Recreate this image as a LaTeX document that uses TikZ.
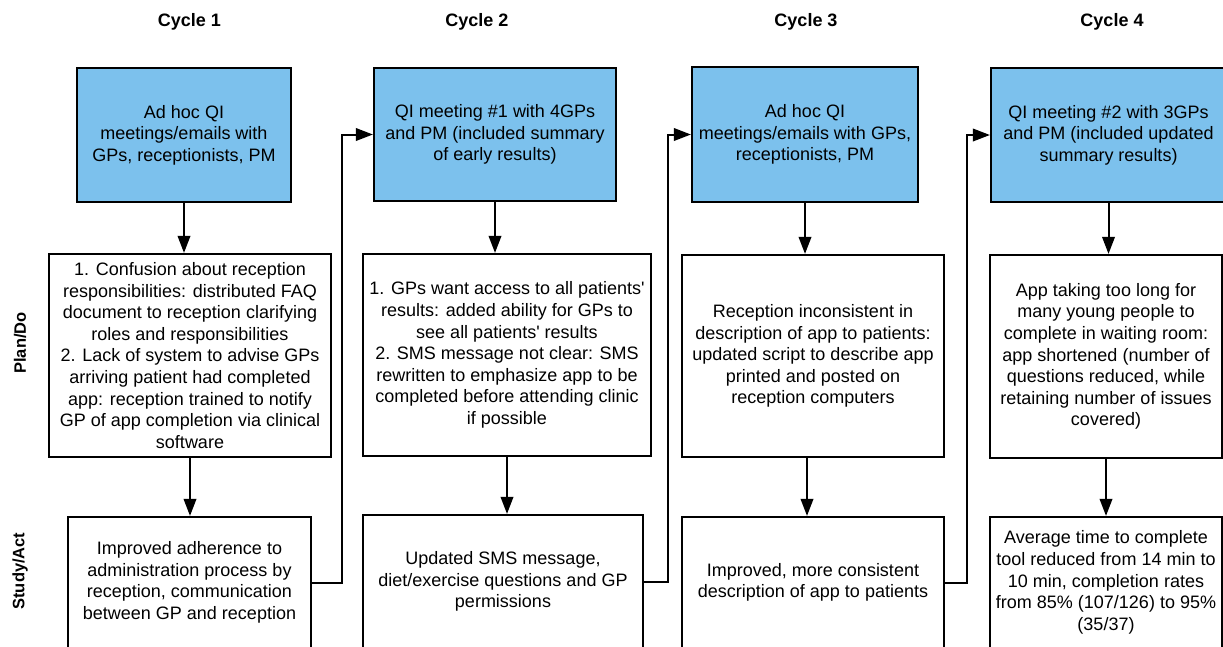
\documentclass[tikz,border=0pt]{standalone}
\usepackage{fontspec}
\setmainfont{Liberation Sans}[Ligatures=TeXOff]
\usetikzlibrary{arrows.meta}
\definecolor{qiblue}{RGB}{124,193,237}
\begin{document}
\begin{tikzpicture}[x=1pt,y=-1pt,
  box/.style={draw=black, line width=2.2pt, align=center, inner sep=2pt,
    font=\fontsize{18}{21.6}\selectfont},
  bluebox/.style={box, fill=qiblue},
  whitebox/.style={box, fill=white},
  arr/.style={line width=2pt, -{Triangle[length=17pt,width=12.5pt]}},
  title/.style={font=\bfseries\fontsize{18}{21.6}\selectfont},
  rowlabel/.style={font=\bfseries\fontsize{16.5}{19}\selectfont, rotate=90}]
\useasboundingbox (0,0) rectangle (1223,646);

% titles
\node[title] (T1) at (189.5,22) {Cycle 1};
\node[title] (T2) at (477,22) {Cycle 2};
\node[title] (T3) at (806,22) {Cycle 3};
\node[title] (T4) at (1112,22) {Cycle 4};

% row labels
\node[rowlabel] (L1) at (20,343) {Plan/Do};
\node[rowlabel] (L2) at (20,571) {Study/Act};

% blue boxes
\node[bluebox, minimum width=214, minimum height=134] (B1) at (184,135)
  {Ad hoc QI\\ meetings/emails with\\ GPs, receptionists, PM};
\node[bluebox, minimum width=242, minimum height=133] (B2) at (495,134.5)
  {QI meeting \#1 with 4GPs\\ and PM (included summary\\ of early results)};
\node[bluebox, minimum width=226, minimum height=135] (B3) at (805,134.5)
  {Ad hoc QI\\ meetings/emails with GPs,\\ receptionists, PM};
\node[bluebox, minimum width=235, minimum height=134] (B4) at (1108.5,135)
  {QI meeting \#2 with 3GPs\\ and PM (included updated\\ summary results)};

% plan/do boxes
\node[whitebox, minimum width=282, minimum height=203] (P1) at (190,355.5)
  {1. Confusion about reception\\ responsibilities: distributed FAQ\\ document to reception clarifying\\ roles and responsibilities\\ 2. Lack of system to advise GPs\\ arriving patient had completed\\ app: reception trained to notify\\ GP of app completion via clinical\\ software};
\node[whitebox, minimum width=288, minimum height=202] (P2) at (507,355)
  {1. GPs want access to all patients'\\ results: added ability for GPs to\\ see all patients' results\\ 2. SMS message not clear: SMS\\ rewritten to emphasize app to be\\ completed before attending clinic\\ if possible};
\node[whitebox, minimum width=262, minimum height=202] (P3) at (813,356)
  {Reception inconsistent in\\ description of app to patients:\\ updated script to describe app\\ printed and posted on\\ reception computers};
\node[whitebox, minimum width=232, minimum height=203] (P4) at (1106,356.5)
  {App taking too long for\\ many young people to\\ complete in waiting room:\\ app shortened (number of\\ questions reduced, while\\ retaining number of issues\\ covered)};

% study/act boxes
\node[whitebox, minimum width=243, minimum height=131] (S1) at (189.5,582.5)
  {Improved adherence to\\ administration process by\\ reception, communication\\ between GP and reception};
\node[whitebox, minimum width=280, minimum height=133] (S2) at (503,581.5)
  {Updated SMS message,\\ diet/exercise questions and GP\\ permissions};
\node[whitebox, minimum width=262, minimum height=131] (S3) at (813,582.5)
  {Improved, more consistent\\ description of app to patients};
\node[whitebox, minimum width=232, minimum height=131] (S4) at (1106,582.5)
  {Average time to complete\\ tool reduced from 14 min to\\ 10 min, completion rates\\ from 85\% (107/126) to 95\%\\ (35/37)};

% vertical arrows
\draw[arr] (B1.south) -- (B1.south |- P1.north);
\draw[arr] (P1.south) -- (P1.south |- S1.north);
\draw[arr] (B2.south) -- (B2.south |- P2.north);
\draw[arr] (P2.south) -- (P2.south |- S2.north);
\draw[arr] (B3.south) -- (B3.south |- P3.north);
\draw[arr] ([xshift=-6pt]P3.south) -- ([xshift=-6pt]P3.south |- S3.north);
\draw[arr] (B4.south) -- (B4.south |- P4.north);
\draw[arr] (P4.south) -- (P4.south |- S4.north);

% connectors between cycles
\coordinate (k1) at (342,300);
\coordinate (k2) at (668,300);
\coordinate (k3) at (967,300);
\draw[arr] (S1.east) -| (k1) |- (B2.west);
\draw[arr] (S2.east) -| (k2) |- (B3.west);
\draw[arr] (S3.east) -| (k3) |- (B4.west);
\end{tikzpicture}
\end{document}
